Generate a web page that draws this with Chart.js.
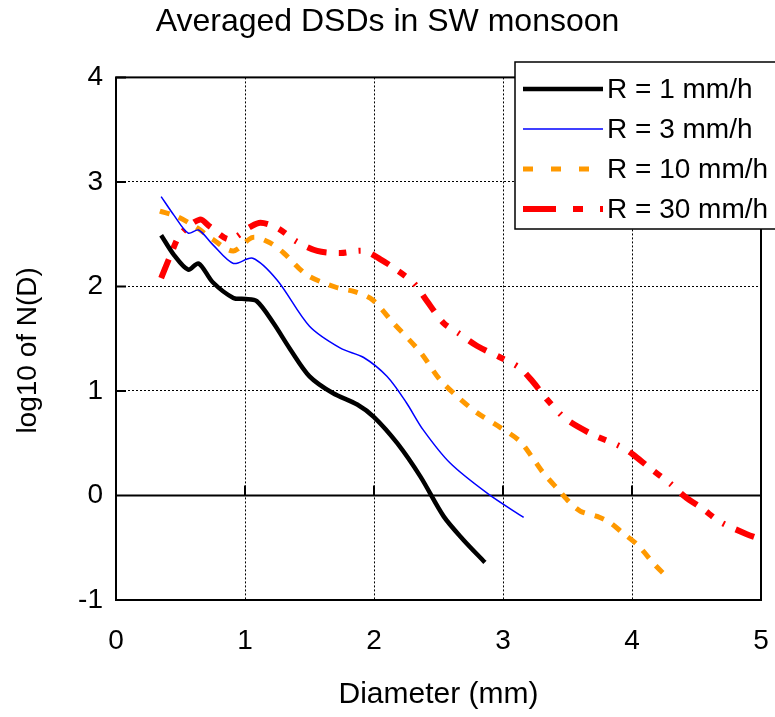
<!DOCTYPE html>
<html>
<head>
<meta charset="utf-8">
<script src="https://cdn.jsdelivr.net/npm/chart.js@4"></script>
<style>
  html, body { margin: 0; padding: 0; background: #fff; }
  #wrap { width: 775px; height: 717px; }
</style>
</head>
<body>
<div id="wrap"><canvas id="dsdChart" width="775" height="717"></canvas></div>
<script>
// diameters (mm) and log10 N(D)
const d1 = [0.35, 0.45, 0.56, 0.64, 0.75, 0.91, 1.0, 1.09, 1.22, 1.35, 1.5, 1.68, 1.87, 2.0, 2.18, 2.36, 2.54, 2.69, 2.86];
const n1 = [2.49, 2.3, 2.16, 2.22, 2.04, 1.89, 1.88, 1.86, 1.65, 1.4, 1.14, 0.98, 0.87, 0.75, 0.5, 0.18, -0.2, -0.42, -0.64];

const d3 = [0.35, 0.45, 0.56, 0.64, 0.75, 0.91, 1.06, 1.25, 1.5, 1.74, 1.92, 2.1, 2.25, 2.38, 2.59, 2.89, 3.16];
const n3 = [2.86, 2.68, 2.51, 2.54, 2.4, 2.22, 2.27, 2.06, 1.62, 1.41, 1.32, 1.14, 0.89, 0.63, 0.31, 0.01, -0.21];

const d10 = [0.34, 0.47, 0.63, 0.75, 0.91, 1.06, 1.19, 1.3, 1.48, 1.71, 1.85, 1.99, 2.15, 2.36, 2.51, 2.67, 2.8, 2.98, 3.13, 3.23, 3.31, 3.44, 3.52, 3.6, 3.73, 3.83, 3.93, 4.04, 4.19, 4.29];
const n10 = [2.72, 2.67, 2.56, 2.45, 2.34, 2.47, 2.42, 2.32, 2.11, 1.99, 1.95, 1.87, 1.65, 1.37, 1.11, 0.92, 0.79, 0.65, 0.52, 0.36, 0.22, 0.04, -0.07, -0.15, -0.2, -0.26, -0.36, -0.47, -0.68, -0.8];

const d30 = [0.35, 0.42, 0.5, 0.65, 0.73, 0.88, 1.04, 1.12, 1.25, 1.4, 1.56, 1.74, 1.92, 2.05, 2.15, 2.31, 2.41, 2.54, 2.67, 2.8, 2.98, 3.13, 3.23, 3.34, 3.49, 3.7, 3.91, 4.01, 4.13, 4.29, 4.41, 4.55, 4.68, 4.89, 5.0];
const n30 = [2.08, 2.29, 2.5, 2.64, 2.57, 2.45, 2.57, 2.61, 2.56, 2.43, 2.34, 2.32, 2.34, 2.26, 2.18, 2.03, 1.86, 1.65, 1.54, 1.43, 1.32, 1.22, 1.09, 0.92, 0.73, 0.58, 0.47, 0.39, 0.27, 0.12, -0.01, -0.13, -0.25, -0.37, -0.42];

const seriesNames = ["R = 1 mm/h", "R = 3 mm/h", "R = 10 mm/h", "R = 30 mm/h"];
const xTicks = [0, 1, 2, 3, 4, 5];
const yTicks = [-1, 0, 1, 2, 3, 4];

const FONT = "'Liberation Sans', Arial, sans-serif";
const toPoints = (xs, ys) => xs.map((x, i) => ({ x: x, y: ys[i] }));

const lineStyles = [
  { color: "#000000", width: 4.5, dash: [] },
  { color: "#0000ff", width: 1.5, dash: [] },
  { color: "#ff9900", width: 5, dash: [10, 10] },
  { color: "#ff0000", width: 6, dash: [20, 12, 8, 12, 2, 12] },
];

// frame, zero line and inward ticks like the original plot
const framePlugin = {
  id: "frame",
  beforeDatasetsDraw(chart) {
    const { ctx, chartArea: a, scales } = chart;
    ctx.save();
    ctx.strokeStyle = "#000";
    ctx.lineWidth = 2;
    const y0 = scales.y.getPixelForValue(0);
    ctx.beginPath();
    ctx.moveTo(a.left, y0);
    ctx.lineTo(a.right, y0);
    yTicks.forEach((v) => {
      const py = scales.y.getPixelForValue(v);
      ctx.moveTo(a.left, py);
      ctx.lineTo(a.left + 10, py);
    });
    ctx.moveTo(a.right, y0);
    ctx.lineTo(a.right - 10, y0);
    xTicks.slice(1, -1).forEach((v) => {
      const px = scales.x.getPixelForValue(v);
      ctx.moveTo(px, y0);
      ctx.lineTo(px, y0 - 10);
    });
    ctx.stroke();
    ctx.strokeRect(a.left, a.top, a.right - a.left, a.bottom - a.top);
    ctx.restore();
  },
};

const legendPlugin = {
  id: "boxLegend",
  afterDraw(chart) {
    const { ctx } = chart;
    const bx = 515, by = 62, bw = 270, bh = 167;
    ctx.save();
    ctx.fillStyle = "#fff";
    ctx.fillRect(bx, by, bw, bh);
    ctx.strokeStyle = "#000";
    ctx.lineWidth = 1.5;
    ctx.strokeRect(bx, by, bw, bh);
    ctx.font = "28px " + FONT;
    ctx.textBaseline = "middle";
    ctx.fillStyle = "#000";
    seriesNames.forEach((name, i) => {
      const y = 89 + i * 40;
      const s = lineStyles[i];
      ctx.strokeStyle = s.color;
      ctx.lineWidth = s.width;
      ctx.setLineDash(i === 3 ? [33, 17, 10, 17, 3, 17] : i === 2 ? [10, 18] : []);
      ctx.beginPath();
      ctx.moveTo(523, y);
      ctx.lineTo(603, y);
      ctx.stroke();
      ctx.setLineDash([]);
      ctx.fillText(name, 607, y + 1);
    });
    ctx.restore();
  },
};

const dsdChart = new Chart(document.getElementById("dsdChart"), {
  type: "line",
  data: {
    datasets: [
      { label: seriesNames[0], data: toPoints(d1, n1) },
      { label: seriesNames[1], data: toPoints(d3, n3) },
      { label: seriesNames[2], data: toPoints(d10, n10) },
      { label: seriesNames[3], data: toPoints(d30, n30) },
    ].map((ds, i) => ({
      ...ds,
      borderColor: lineStyles[i].color,
      borderWidth: lineStyles[i].width,
      borderDash: lineStyles[i].dash,
      pointRadius: 0,
      tension: 0.3,
      fill: false,
    })),
  },
  options: {
    responsive: false,
    animation: false,
    layout: { padding: { left: 14, right: 14, top: 0, bottom: 0 } },
    scales: {
      x: {
        type: "linear",
        min: 0,
        max: 5,
        afterBuildTicks: (s) => { s.ticks = xTicks.map((v) => ({ value: v })); },
        afterFit: (s) => { s.height = 117; s.paddingLeft = 0; s.paddingRight = 0; },
        ticks: { color: "#000", font: { family: FONT, size: 28 }, padding: 24 },
        grid: { color: "#000", lineWidth: 1, drawTicks: false },
        border: { display: false, dash: [2, 2] },
        title: {
          display: true,
          text: "Diameter (mm)",
          color: "#000",
          font: { family: FONT, size: 30 },
          padding: { top: 0, bottom: 4 },
        },
      },
      y: {
        type: "linear",
        min: -1,
        max: 4,
        afterBuildTicks: (s) => { s.ticks = yTicks.map((v) => ({ value: v })); },
        afterFit: (s) => { s.width = 102; s.paddingTop = 0; s.paddingBottom = 0; },
        ticks: { color: "#000", font: { family: FONT, size: 28 }, padding: 13 },
        grid: { color: "#000", lineWidth: 1, drawTicks: false },
        border: { display: false, dash: [2, 2] },
        title: {
          display: true,
          text: "log10 of N(D)   ",
          color: "#000",
          font: { family: FONT, size: 28, lineHeight: 1.0 },
          padding: { top: 0, bottom: 0 },
        },
      },
    },
    plugins: {
      legend: { display: false },
      tooltip: { enabled: false },
      title: {
        display: true,
        text: "Averaged DSDs in SW monsoon",
        color: "#000",
        font: { family: FONT, size: 32, weight: "normal" },
        padding: { top: 3, bottom: 36 },
      },
    },
  },
  plugins: [framePlugin, legendPlugin],
});
</script>
</body>
</html>
